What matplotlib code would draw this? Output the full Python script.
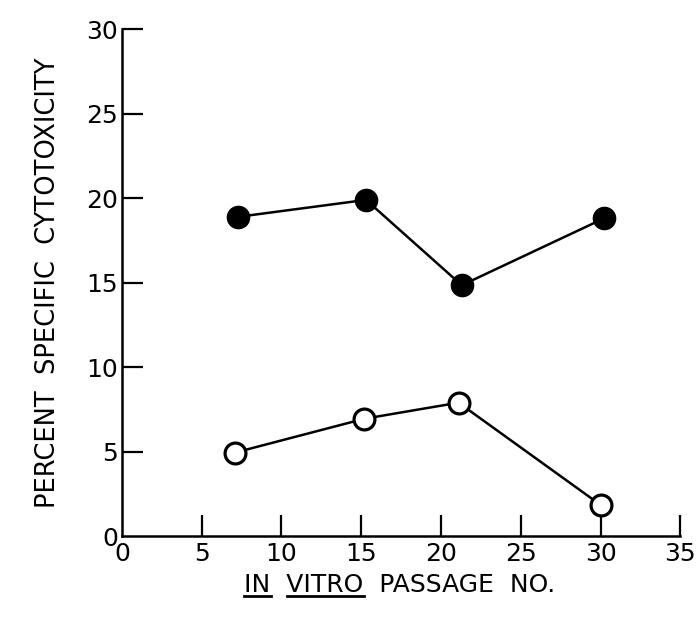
import matplotlib
matplotlib.use('Agg')
import matplotlib.pyplot as plt
from matplotlib.lines import Line2D

# values
passage_filled = [7.3, 15.3, 21.3, 30.2]
cytotox_filled = [18.9, 19.9, 14.85, 18.8]
passage_open = [7.1, 15.2, 21.1, 30.0]
cytotox_open = [4.95, 6.95, 7.9, 1.85]

x_ticks = [0, 5, 10, 15, 20, 25, 30, 35]
y_ticks = [0, 5, 10, 15, 20, 25, 30]
x_title = 'IN  VITRO  PASSAGE  NO.'
underlined = ['IN', 'VITRO']

plt.rcParams['font.family'] = ['DejaVu Sans']

fig = plt.figure(figsize=(6.97, 6.22), dpi=100)
ax = fig.add_axes([0.175, 0.138, 0.801, 0.815])

ax.plot(passage_filled, cytotox_filled, color='black', lw=1.8, marker='o',
        ms=16, mfc='black', mec='black', zorder=3)
ax.plot(passage_open, cytotox_open, color='black', lw=1.8, marker='o',
        ms=15, mfc='white', mec='black', mew=2.3, zorder=3)

ax.set_xlim(0, 35)
ax.set_ylim(0, 30)
ax.set_xticks(x_ticks)
ax.set_yticks(y_ticks)
ax.spines['top'].set_visible(False)
ax.spines['right'].set_visible(False)
ax.spines['left'].set_linewidth(1.8)
ax.spines['bottom'].set_linewidth(1.8)
ax.tick_params(direction='in', length=15, width=1.6, labelsize=18, pad=4)
ax.tick_params(axis='y', pad=3)
# no tick marks in the corner at the origin
ax.xaxis.get_major_ticks()[0].tick1line.set_visible(False)
ax.yaxis.get_major_ticks()[0].tick1line.set_visible(False)

ax.set_ylabel('PERCENT  SPECIFIC  CYTOTOXICITY', fontsize=18.5, labelpad=18)

# x title with the latin words underlined
fs = 18
title = fig.text(0.574, 0.06, x_title, fontsize=fs, ha='center', va='center')
fig.canvas.draw()
r = fig.canvas.get_renderer()
bb = title.get_window_extent(r)
inv = fig.transFigure.inverted()
for word in underlined:
    start = x_title.index(word)
    pre = fig.text(0, 0, x_title[:start], fontsize=fs)
    w_pre = pre.get_window_extent(r).width if start > 0 else 0
    pre.remove()
    wt = fig.text(0, 0, word, fontsize=fs)
    w_word = wt.get_window_extent(r).width
    wt.remove()
    x0 = bb.x0 + w_pre
    x1 = x0 + w_word
    y = bb.y0 + 1
    (fx0, fy), (fx1, _) = inv.transform([(x0, y), (x1, y)])
    fig.add_artist(Line2D([fx0, fx1], [fy, fy], color='black', lw=2))

plt.savefig('out.png', dpi=100)
plt.close()
